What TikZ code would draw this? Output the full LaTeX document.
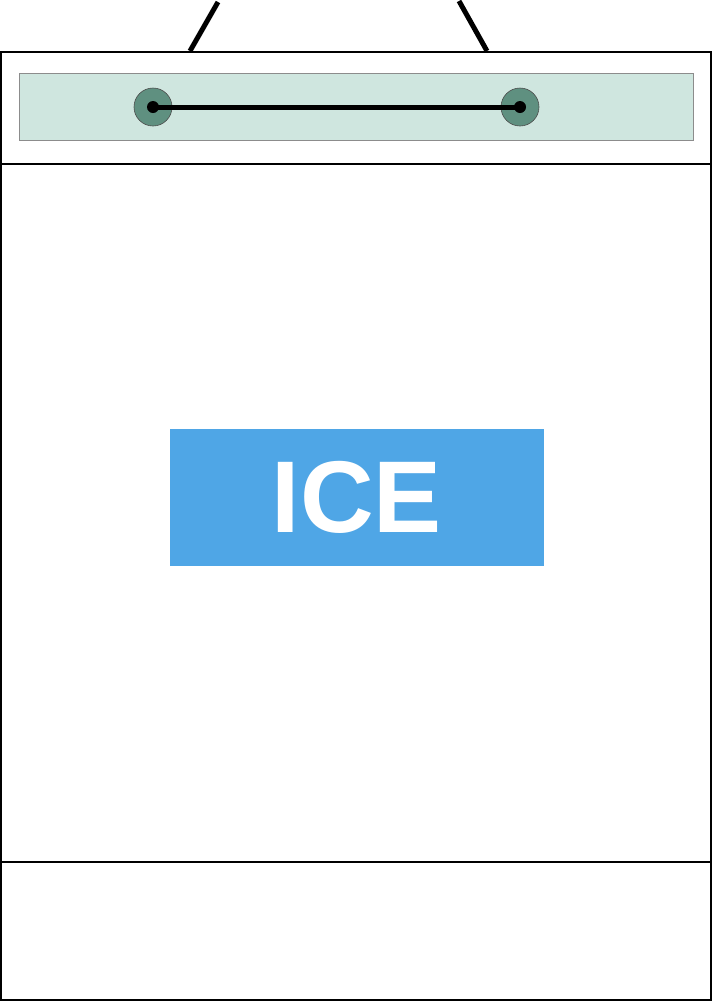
\documentclass[tikz,border=0pt]{standalone}
\usepackage{fontspec}
\setmainfont{Liberation Sans}
\definecolor{panelgreen}{HTML}{CFE6DF}
\definecolor{knobgreen}{HTML}{5F9080}
\definecolor{iceblue}{HTML}{4FA6E6}
\begin{document}
\begin{tikzpicture}[x=1pt,y=-1pt,
  frame/.style={draw=black,line width=2pt},
  wire/.style={draw=black,line width=5pt},
  knob/.style={circle,draw=black!70,fill=knobgreen,minimum size=38pt,inner sep=0pt,line width=0.6pt},
  dot/.style={circle,fill=black,minimum size=12pt,inner sep=0pt}]
\useasboundingbox (0,0) rectangle (713,1002);
\fill[white] (0,0) rectangle (713,1002);
% cabinet
\draw[frame] (1,52) rectangle (711,1000);
\draw[frame] (1,164) -- (711,164);
\draw[frame] (1,862) -- (711,862);
% panel
\draw[fill=panelgreen,draw=black!45,line width=0.6pt] (19.5,73) rectangle (693,140);
\node[knob] (k1) at (153,107) {};
\node[knob] (k2) at (520,107) {};
\node[dot] (d1) at (153,107) {};
\node[dot] (d2) at (520,107) {};
\draw[wire] (d1.center) -- (d2.center);
% hanger
\coordinate (h1a) at (190,51);
\coordinate (h1b) at (218,2);
\coordinate (h2a) at (487,51);
\coordinate (h2b) at (459,1);
\draw[wire] (h1a) -- (h1b);
\draw[wire] (h2a) -- (h2b);
% ICE sign
\node[fill=iceblue,minimum width=374pt,minimum height=137pt,inner sep=0pt,
  text=white,font=\fontsize{102}{102}\selectfont\bfseries] (ice) at (357,497.5) {ICE};
\end{tikzpicture}
\end{document}
